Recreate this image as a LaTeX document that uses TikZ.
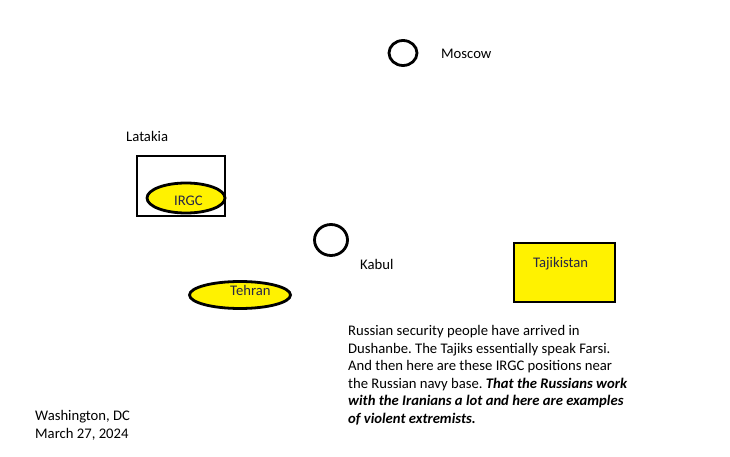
\documentclass[tikz,border=0pt]{standalone}
\usepackage{fontspec}
\setmainfont{Carlito}
\usetikzlibrary{shapes.geometric}
\frenchspacing
\definecolor{mapyellow}{RGB}{255,242,0}
\definecolor{labelink}{RGB}{38,38,70}
\tikzset{
  x=1pt,y=-1pt,
  txt/.style={anchor=base west,inner sep=0pt,font=\fontsize{14.67}{17.5}\selectfont,text=black},
  inlbl/.style={anchor=base west,inner sep=0pt,font=\fontsize{14.67}{17.5}\selectfont,text=labelink},
  city/.style={draw=black,line width=2.8pt,ellipse,inner sep=0pt},
  yellowoval/.style={draw=black,line width=2.8pt,fill=mapyellow,ellipse,inner sep=0pt},
  frame/.style={draw=black,line width=2.8pt},
}
\begin{document}
\begin{tikzpicture}
\useasboundingbox (0,0) rectangle (730,457);
\fill[white] (0,0) rectangle (730,457);
% Moscow
\node[city,minimum width=28pt,minimum height=25pt] (moscow) at (403,53) {};
\node[txt] (moscowlbl) at (441,58.5) {Moscow};
% Latakia
\node[txt] (latakia) at (126,141.5) {Latakia};
\draw[frame] (137,156) rectangle (225,216);
\node[yellowoval,minimum width=78pt,minimum height=30pt] (irgc) at (186,198) {};
\node[inlbl] (irgclbl) at (174,205.5) {IRGC};
% Kabul
\node[city,minimum width=33pt,minimum height=31pt] (kabul) at (331,240) {};
\node[txt] (kabullbl) at (360,269.5) {Kabul};
% Tehran
\node[yellowoval,minimum width=101pt,minimum height=27pt] (tehran) at (240,295) {};
\node[inlbl] (tehranlbl) at (230,295.5) {Tehran};
% Tajikistan
\draw[frame,fill=mapyellow] (514,243) rectangle (615,302);
\node[inlbl] (tajlbl) at (533,267.5) {Tajikistan};
% paragraph
\node[txt] (p1) at (348,335.5) {Russian security people have arrived in};
\node[txt] (p2) at (348,353) {Dushanbe. The Tajiks essentially speak Farsi.};
\node[txt] (p3) at (348,370.5) {And then here are these IRGC positions near};
\node[txt] (p4) at (348,388) {the Russian navy base. \textbf{\textit{That the Russians work}}};
\node[txt] (p5) at (348,405.5) {\textbf{\textit{with the Iranians a lot and here are examples}}};
\node[txt] (p6) at (348,423) {\textbf{\textit{of violent extremists.}}};
% dateline
\node[txt] (d1) at (35,420.5) {Washington, DC};
\node[txt] (d2) at (35,438.5) {March 27, 2024};
\end{tikzpicture}
\end{document}
